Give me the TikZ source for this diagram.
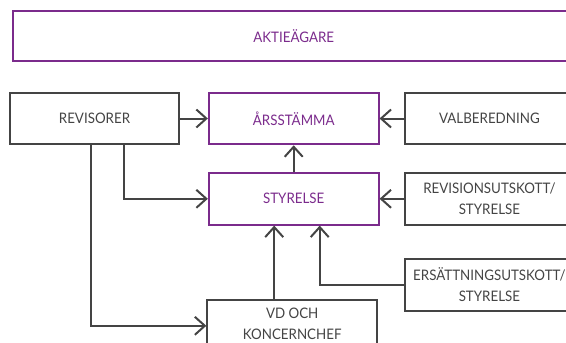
\documentclass[tikz,border=0pt]{standalone}
\usepackage{fontspec}
\setmainfont{Lato}[FakeStretch=0.92]
\usepackage{xcolor}
\usetikzlibrary{positioning, arrows.meta}

\definecolor{lila}{HTML}{7B2B8C}
\definecolor{mork}{HTML}{444444}

\begin{document}
\begin{tikzpicture}[x=1pt,y=1pt]
			\tikzstyle{ruta}=[draw=mork,text=mork,line width=2pt,minimum width=169.7pt,minimum height=51.6pt,inner sep=0pt,align=center,font=\fontsize{14.5}{21}\selectfont]
			\tikzstyle{lilaruta}=[ruta,draw=lila,text=lila]
			\tikzstyle{pil}=[draw=mork,line width=2pt,-{Straight Barb[length=10pt,width=18pt]}]
			
			\useasboundingbox (0,0) rectangle (566,-343);
			\clip (0,0) rectangle (566,-343);
			
			\node[ruta] (rev) at (94.5,-118.5) {REVISORER};
			\node[lilaruta] (ars) [right=27.5pt of rev] {ÅRSSTÄMMA};
			\node[ruta] (val) [right=24pt of ars] {VALBEREDNING};
			\node[lilaruta, minimum width=561pt, minimum height=50pt] (akt) [above=30pt of ars] {AKTIEÄGARE};
			\node[lilaruta] (sty) [below=26.7pt of ars] {STYRELSE};
			\node[ruta] (revut) [right=24pt of sty] {REVISIONSUTSKOTT/\\STYRELSE};
			\node[ruta] (ers) [below=32.4pt of revut] {ERSÄTTNINGSUTSKOTT/\\STYRELSE};
			\node[ruta, text depth=5pt] (vd) [below=73.4pt of sty, xshift=-1.5pt] {VD OCH\\KONCERNCHEF};
			
			\path[pil] (rev) edge (ars)
			(val) edge (ars)
			(sty) edge (ars)
			(revut) edge (sty);
			
			\draw[pil] ([xshift=-18pt]vd.north) -- ([xshift=-19.5pt]sty.south);
			\draw[pil] ([xshift=29.5pt]rev.south) |- (sty);
			\draw[pil] ([xshift=-3.8pt]rev.south) |- (vd);
			\draw[pil] (ers) -| ([xshift=26pt]sty.south);
		\end{tikzpicture}
\end{document}
